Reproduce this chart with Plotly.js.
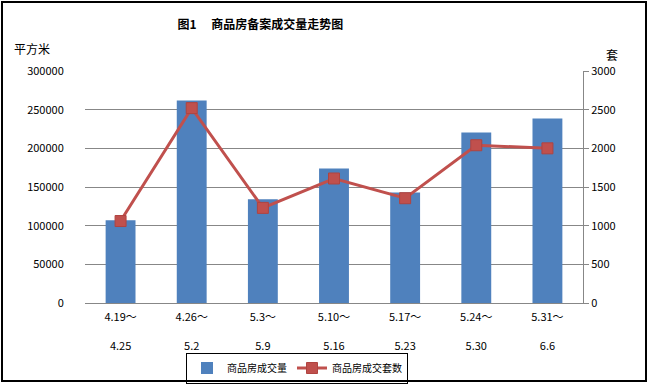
<!DOCTYPE html>
<html><head><meta charset="utf-8">
<script src="https://cdn.plot.ly/plotly-3.0.1.min.js"></script>
<style>html,body{margin:0;padding:0;background:#fff}</style>
</head><body>
<div id="chart" style="width:651px;height:387px"></div>
<script>
var categories = ['4.19～<br><br>4.25','4.26～<br><br>5.2','5.3～<br><br>5.9','5.10～<br><br>5.16','5.17～<br><br>5.23','5.24～<br><br>5.30','5.31～<br><br>6.6'];
var areaValues = [107000, 262000, 134000, 174000, 143000, 220500, 238500];
var unitValues = [1060, 2520, 1230, 1610, 1355, 2040, 2000];
var leftTicks = [0, 50000, 100000, 150000, 200000, 250000, 300000];
var rightTicks = [0, 500, 1000, 1500, 2000, 2500, 3000];

var F = '"Noto Sans CJK SC", "DejaVu Sans", sans-serif';
var xIdx = categories.map(function(_, i){return i;});

var traces = [
  {type:'bar', x:xIdx, y:areaValues, name:'商品房成交量', marker:{color:'#4F81BD'}, width:0.42, yaxis:'y'},
  {type:'scatter', mode:'lines+markers', x:xIdx, y:unitValues, name:'商品房成交套数', yaxis:'y2',
   line:{color:'#C0504D', width:3}, marker:{symbol:'square', size:11, color:'#C0504D', line:{color:'#B04440', width:1}}}
];

var layout = {
  width:651, height:387,
  margin:{l:85, r:68, t:71, b:84, autoexpand:false},
  paper_bgcolor:'#fff', plot_bgcolor:'#fff',
  font:{family:F, size:11, color:'#000'},
  showlegend:true,
  title:{text:'<b>图1　 商品房备案成交量走势图</b>', font:{family:F, size:12, color:'#000'}, x:0.4, xanchor:'center', y:0.935, yanchor:'middle'},
  xaxis:{type:'linear', range:[-0.5, 6.5], tickvals:xIdx, ticktext:categories, showgrid:false, zeroline:false, automargin:false,
    showline:true, linecolor:'#878787', linewidth:1, ticks:'', ticklabelstandoff:4, tickfont:{family:F, size:11}},
  yaxis:{range:[0,300000], tickvals:leftTicks, ticktext:leftTicks.map(String), showgrid:true, gridcolor:'#878787', gridwidth:1, automargin:false,
    zeroline:false, showline:false, ticks:'outside', ticklen:18, tickcolor:'rgba(0,0,0,0)', tickfont:{family:F, size:11}},
  yaxis2:{range:[0,3000], tickvals:rightTicks, ticktext:rightTicks.map(String), overlaying:'y', side:'right', showgrid:false, automargin:false,
    zeroline:false, showline:true, linecolor:'#878787', linewidth:1, ticks:'outside', ticklen:5, tickcolor:'#878787', tickfont:{family:F, size:11}},
  legend:{orientation:'h', xref:'container', yref:'container', x:297/651, xanchor:'center', y:1-368/387, yanchor:'middle', bordercolor:'#000', borderwidth:1,
    font:{family:F, size:10}, itemwidth:30, bgcolor:'rgba(255,255,255,0)'},
  annotations:[
    {text:'平方米', xref:'paper', yref:'paper', x:(12-85)/498, y:(303-49)/232, xanchor:'left', yanchor:'middle', showarrow:false, font:{family:F, size:12}},
    {text:'套', xref:'paper', yref:'paper', x:(612-85)/498, y:(303-54)/232, xanchor:'center', yanchor:'middle', showarrow:false, font:{family:F, size:12}}
  ],
  shapes:[
    {type:'rect', xref:'paper', yref:'paper', x0:(2-85)/498, x1:(646-85)/498, y0:(303-381)/232, y1:(303-2)/232, line:{color:'#000', width:2}}
  ]
};
Plotly.newPlot('chart', traces, layout, {displayModeBar:false, staticPlot:true});
</script>
</body></html>
